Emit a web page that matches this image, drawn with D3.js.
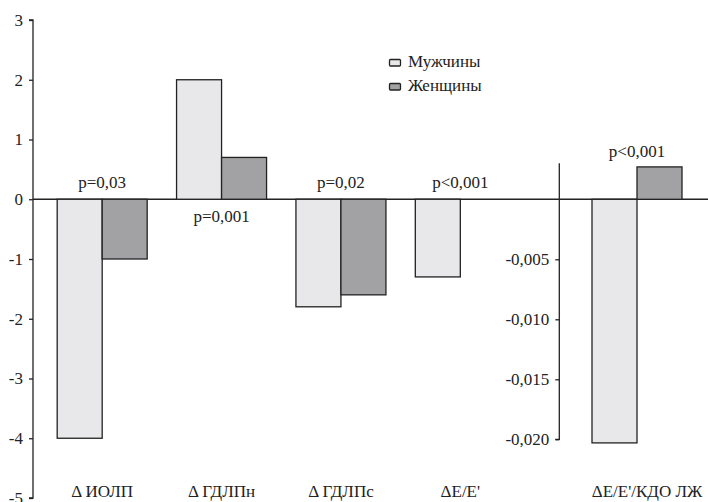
<!DOCTYPE html>
<html><head><meta charset="utf-8">
<script src="https://cdn.jsdelivr.net/npm/d3@7/dist/d3.min.js"></script>
<style>
body{margin:0;background:#fff}
</style></head>
<body><svg id="c" width="708" height="502"></svg>
<script>
const categories = ["Δ ИОЛП", "Δ ГДЛПн", "Δ ГДЛПс", "ΔE/E'"];
const men   = [-4, 2, -1.8, -1.3];
const women = [-1, 0.7, -1.6, null];
const pLabels = ["p=0,03", "p=0,001", "p=0,02", "p<0,001"];
const leftTicks = [3, 2, 1, 0, -1, -2, -3, -4, -5];

const rightCategory = ["ΔE/E'/КДО ЛЖ"];
const rightMen = [-0.0203];
const rightWomen = [0.0027];
const rightP = ["p<0,001"];
const rightTicks = [-0.005, -0.010, -0.015, -0.020];

const series = ["Мужчины", "Женщины"];
const colors = {"Мужчины": "#e8e8ea", "Женщины": "#a2a2a5"};
const stroke = "#222";
const FONT = "'Liberation Serif'";

const svg = d3.select("#c");
const yL = d3.scaleLinear().domain([-5, 3]).range([498, 20]);
const yR = d3.scaleLinear().domain([-0.020, 0.003]).range([439.3, 163.3]);
const xL = d3.scaleBand().domain(categories).range([42.5, 520]);
const xR = d3.scaleBand().domain(rightCategory).range([577, 697]);
const barW = 45;
const sub = d3.scaleBand().domain(series).range([0, 2 * barW]);

svg.append("line").attr("x1", 33).attr("x2", 708).attr("y1", yL(0)).attr("y2", yL(0))
  .attr("stroke", stroke).attr("stroke-width", 1.3);

function drawBars(xs, cats, mvals, wvals, y) {
  cats.forEach((c, i) => {
    const cx = xs(c) + xs.bandwidth() / 2 - barW;
    [[series[0], mvals[i]], [series[1], wvals[i]]].forEach(([s, v]) => {
      if (v === null || v === undefined) return;
      svg.append("rect")
        .attr("x", cx + sub(s)).attr("width", sub.bandwidth())
        .attr("y", Math.min(y(v), y(0))).attr("height", Math.abs(y(v) - y(0)))
        .attr("fill", colors[s]).attr("stroke", stroke).attr("stroke-width", 1.3);
    });
  });
}
drawBars(xL, categories, men, women, yL);
drawBars(xR, rightCategory, rightMen, rightWomen, yR);

const axL = svg.append("g").attr("transform", "translate(33,0)")
  .call(d3.axisLeft(yL).tickValues(leftTicks).tickSize(4).tickPadding(6).tickFormat(d => String(d)));
axL.select(".domain").attr("stroke", stroke).attr("stroke-width", 1.3).attr("d", `M-4,${yL(3)}H0V${yL(-5)}H-4`);
axL.selectAll(".tick line").attr("stroke", stroke).attr("stroke-width", 1.3);

const axR = svg.append("g").attr("transform", "translate(559.3,0)")
  .call(d3.axisLeft(yR).tickValues(rightTicks).tickSize(4).tickPadding(6)
    .tickFormat(d => d3.format(".3f")(d).replace("−", "-").replace(".", ",")));
axR.select(".domain").attr("stroke", stroke).attr("stroke-width", 1.3).attr("d", `M0,${yR(0.003)}V${yR(-0.020)}H-4`);
axR.selectAll(".tick line").attr("stroke", stroke).attr("stroke-width", 1.3);

categories.forEach((c, i) => {
  const cx = xL(c) + xL.bandwidth() / 2;
  const above = Math.max(men[i], women[i] ?? -Infinity) <= 0;
  svg.append("text").attr("x", cx).attr("y", above ? 188 : 222)
    .attr("text-anchor", "middle").text(pLabels[i]);
  svg.append("text").attr("x", cx).attr("y", 497)
    .attr("text-anchor", "middle").text(c);
});
rightCategory.forEach((c, i) => {
  const cx = xR(c) + xR.bandwidth() / 2;
  svg.append("text").attr("x", cx).attr("y", 157)
    .attr("text-anchor", "middle").text(rightP[i]);
  svg.append("text").attr("x", cx + 10).attr("y", 497)
    .attr("text-anchor", "middle").text(c);
});

series.forEach((s, i) => {
  const ly = 59.5 + i * 24;
  svg.append("rect").attr("x", 389.5).attr("y", ly).attr("width", 11).attr("height", 6.5)
    .attr("rx", 1).attr("fill", colors[s]).attr("stroke", stroke).attr("stroke-width", 1.3);
  svg.append("text").attr("class", "leg").attr("x", 408).attr("y", ly + 7.5).text(s);
});

svg.selectAll("g").attr("font-family", null).attr("font-size", null);
svg.selectAll("text").style("font-family", FONT).style("font-size", "17px").attr("fill", "#222");
</script></body></html>
